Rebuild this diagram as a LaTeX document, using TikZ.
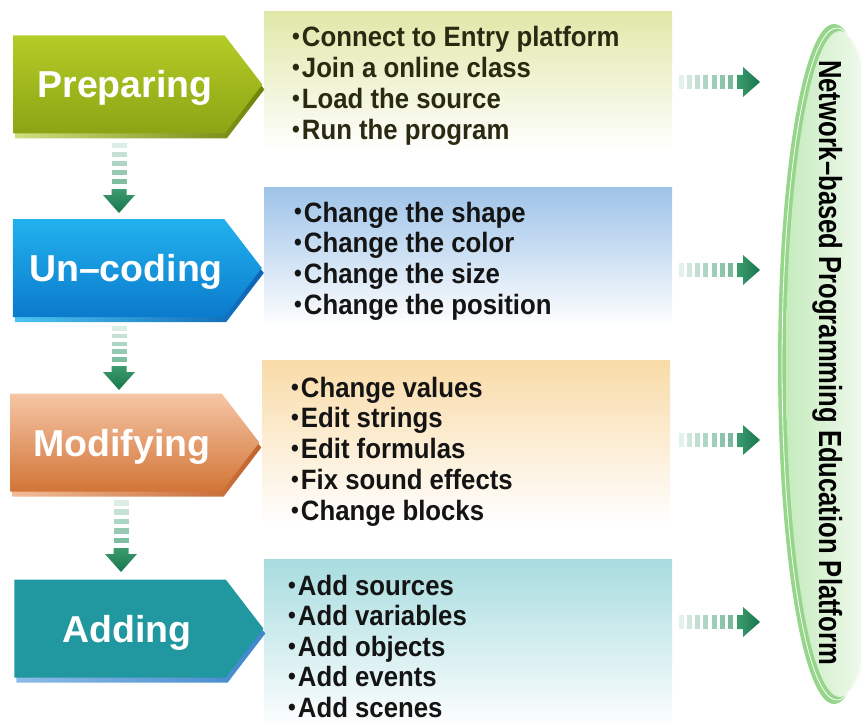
\documentclass[tikz,border=0pt]{standalone}
\usepackage{fontspec}
\setmainfont{Liberation Sans}
\newfontfamily\stagefont{Liberation Sans Bold}
\newfontfamily\itemfont[FakeStretch=0.92]{Liberation Sans Bold}
\newfontfamily\platfont[FakeStretch=0.8]{Liberation Sans Bold}
\usetikzlibrary{shapes.symbols}

% stage colours
\definecolor{prepTop}{HTML}{B4CC26}
\definecolor{prepBot}{HTML}{8CA414}
\definecolor{prepSideL}{HTML}{D0DE80}
\definecolor{prepSideR}{HTML}{6C8308}
\definecolor{uncTop}{HTML}{22B2EE}
\definecolor{uncBot}{HTML}{0B7ACC}
\definecolor{uncSideL}{HTML}{4CC4F2}
\definecolor{uncSideR}{HTML}{0A62B4}
\definecolor{modTop}{HTML}{F6C6A6}
\definecolor{modBot}{HTML}{D27436}
\definecolor{modSideL}{HTML}{F2BC98}
\definecolor{modSideR}{HTML}{C2622C}
\definecolor{addFace}{HTML}{21989F}
\definecolor{addSideL}{HTML}{8CBCE8}
\definecolor{addSideR}{HTML}{3F86CC}
% panel colours
\definecolor{panA}{HTML}{E0E8A8}
\definecolor{panB}{HTML}{9EC3E8}
\definecolor{panC}{HTML}{F9DBA8}
\definecolor{panD}{HTML}{A8DCDF}
% flow arrows and platform rim
\definecolor{flowDark}{HTML}{17754A}
\definecolor{flowMid}{HTML}{3C9C70}
\definecolor{rimGreen}{HTML}{95D68A}
\definecolor{rimLight}{HTML}{C6EBBE}
\definecolor{itemText}{HTML}{141414}
\definecolor{itemTextA}{HTML}{2A2A12}

\newcommand\blt{{\fontsize{24}{24}\selectfont\raisebox{2pt}{\textbullet}}\hspace{2pt}}

% dashed arrow pointing down: x centre, top y, tip y
\newcommand\flowdown[3]{%
  \pgfmathsetmacro\fdBase{#3-18}%
  \pgfmathsetmacro\fdStem{\fdBase-6}%
  \pgfmathsetmacro\fdP{(\fdStem-1-#2)/5}%
  \foreach \k in {0,...,4}{%
    \pgfmathsetmacro\fdOp{0.18+0.12*\k}%
    \fill[flowMid, opacity=\fdOp] (#1-7.5, {#2+\k*\fdP}) rectangle (#1+7.5, {#2+\k*\fdP+0.6*\fdP});
  }%
  \shade[top color=flowMid, bottom color=flowDark]
    (#1-7.5,\fdStem) -- (#1+7.5,\fdStem) -- (#1+7.5,\fdBase) -- (#1+16,\fdBase)
    -- (#1,#3) -- (#1-16,\fdBase) -- (#1-7.5,\fdBase) -- cycle;
}
% dashed arrow pointing right: y centre, start x, tip x
\newcommand\flowright[3]{%
  \pgfmathsetmacro\frBase{#3-17}%
  \pgfmathsetmacro\frStem{\frBase-6}%
  \pgfmathsetmacro\frP{(\frStem-1-#2)/7}%
  \foreach \k in {0,...,6}{%
    \pgfmathsetmacro\frOp{0.14+0.09*\k}%
    \fill[flowMid, opacity=\frOp] ({#2+\k*\frP}, #1-7) rectangle ({#2+\k*\frP+0.62*\frP}, #1+7);
  }%
  \shade[left color=flowMid, right color=flowDark]
    (\frStem,#1-7) -- (\frBase,#1-7) -- (\frBase,#1-15) -- (#3,#1)
    -- (\frBase,#1+15) -- (\frBase,#1+7) -- (\frStem,#1+7) -- cycle;
}

\tikzset{
  stage/.style={signal, signal to=east, signal pointer angle=105,
    minimum width=249pt, minimum height=98pt, inner sep=0pt, outer sep=0pt},
  stagelabel/.style={text=white, inner sep=0pt, anchor=base,
    font=\stagefont\fontsize{37.5}{40}\selectfont},
  panel/.style={rectangle, minimum width=408pt, anchor=north west, inner sep=0pt},
  item/.style={anchor=base west, inner sep=0pt, text=itemText,
    font=\itemfont\fontsize{28}{30}\selectfont},
  platform/.style={rotate=-90, anchor=base, inner sep=0pt, text=black,
    font=\platfont\fontsize{32}{34}\selectfont},
}

\begin{document}
\begin{tikzpicture}[x=1pt, y=-1pt]
\useasboundingbox (0,0) rectangle (861,722);
\clip (0,0) rectangle (861,722);

% ---- description panels ----
\node[panel, minimum height=140pt, top color=panA, middle color=panA!45, bottom color=white] (pA) at (264,11) {};
\node[panel, minimum height=140pt, top color=panB, middle color=panB!45, bottom color=white] (pB) at (264,187) {};
\node[panel, minimum height=165pt, top color=panC, middle color=panC!45, bottom color=white] (pC) at (262,360) {};
\node[panel, minimum height=170pt, top color=panD, middle color=panD!45, bottom color=white] (pD) at (264,559) {};

% ---- stage arrows (bevel underneath, face on top) ----
\node[stage, left color=prepSideL, right color=prepSideR] (prepSide) at (121,89.5) {};
\node[stage, top color=prepTop, bottom color=prepBot] (prep) at (119,84.5) {};
\node[stage, left color=uncSideL, right color=uncSideR] (uncSide) at (120.5,273) {};
\node[stage, top color=uncTop, bottom color=uncBot] (unc) at (118.5,268) {};
\node[stage, left color=modSideL, right color=modSideR] (modSide) at (118,447.5) {};
\node[stage, top color=modTop, bottom color=modBot] (mod) at (116,442.5) {};
\node[stage, left color=addSideL, right color=addSideR] (addSide) at (122,633.5) {};
\node[stage, fill=addFace] (add) at (120,628.5) {};

\node[stagelabel] (prepL) at ([xshift=6pt, yshift=-13.5pt]prep.center) {Preparing};
\node[stagelabel] (uncL) at ([xshift=7.5pt, yshift=-13.5pt]unc.center) {Un–coding};
\node[stagelabel] (modL) at ([xshift=6pt, yshift=-13.5pt]mod.center) {Modifying};
\node[stagelabel] (addL) at ([xshift=7pt, yshift=-13.5pt]add.center) {Adding};

% ---- flow between stages ----
\flowdown{119}{143}{213}
\flowdown{119}{326}{390}
\flowdown{121}{500}{572}

% ---- panel items ----
\foreach \t [count=\i] in {Connect to Entry platform, Join a online class, Load the source, Run the program}
  \node[item, text=itemTextA] (a\i) at (292, {47+31*(\i-1)}) {\blt\t};
\foreach \t [count=\i] in {Change the shape, Change the color, Change the size, Change the position}
  \node[item] (b\i) at (294, {222+30.7*(\i-1)}) {\blt\t};
\foreach \t [count=\i] in {Change values, Edit strings, Edit formulas, Fix sound effects, Change blocks}
  \node[item] (c\i) at (291, {397+30.8*(\i-1)}) {\blt\t};
\foreach \t [count=\i] in {Add sources, Add variables, Add objects, Add events, Add scenes}
  \node[item] (d\i) at (288, {595+30.5*(\i-1)}) {\blt\t};

% ---- flow into the platform ----
\flowright{82}{679}{760}
\flowright{270}{679}{760}
\flowright{440}{679}{760}
\flowright{622}{679}{760}

% ---- platform rim ----
\fill[rimGreen] (834,364) ellipse [x radius=56, y radius=340];
\shade[left color=rimLight, middle color=white, right color=white] (840,364) ellipse [x radius=54, y radius=333];
\draw[white, line width=0.8pt] (837,364) ellipse [x radius=55, y radius=336];
\node[platform] (plat) at (819,362.5) {Network–based Programming Education Platform};
\end{tikzpicture}
\end{document}
